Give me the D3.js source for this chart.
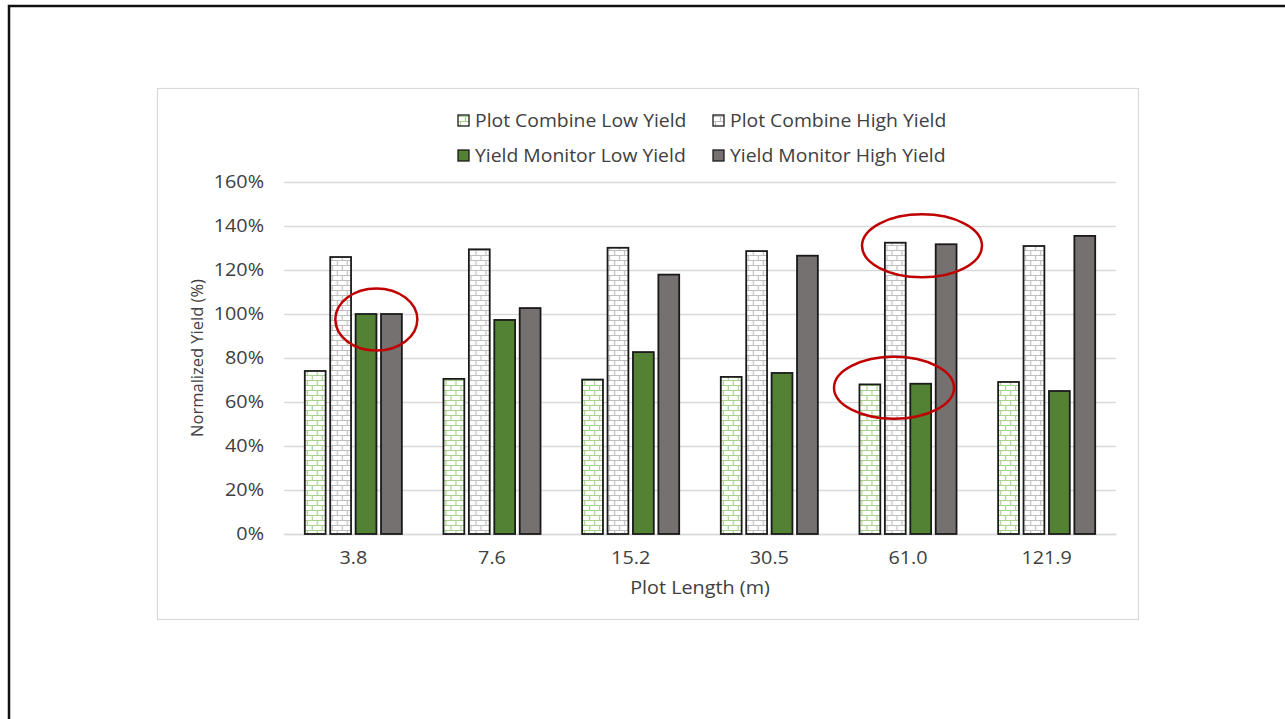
<!DOCTYPE html>
<html>
<head>
<meta charset="utf-8">
<script src="https://cdn.jsdelivr.net/npm/d3@7/dist/d3.min.js"></script>
<style>
  html, body { margin: 0; padding: 0; background: #fff; }
  svg { display: block; }
  text { font-family: "Open Sans", "DejaVu Sans", sans-serif; fill: #404040; }
</style>
</head>
<body>
<svg id="chart" width="1285" height="719"></svg>
<script>
// Plot lengths (m) on the x axis
const categories = ["3.8", "7.6", "15.2", "30.5", "61.0", "121.9"];
// Series names, in legend order
const seriesNames = [
  "Plot Combine Low Yield",
  "Plot Combine High Yield",
  "Yield Monitor Low Yield",
  "Yield Monitor High Yield"
];
// Normalized yield (%) per plot length
const plotCombineLow   = [74.1, 70.5, 70.2, 71.4, 68.0, 69.1];
const plotCombineHigh  = [125.9, 129.4, 130.1, 128.6, 132.4, 130.9];
const yieldMonitorLow  = [100.0, 97.3, 82.7, 73.2, 68.3, 65.0];
const yieldMonitorHigh = [100.0, 102.7, 117.9, 126.5, 131.7, 135.5];
const yTicks = [0, 20, 40, 60, 80, 100, 120, 140, 160];

const seriesValues = [plotCombineLow, plotCombineHigh, yieldMonitorLow, yieldMonitorHigh];
const table = categories.map((c, i) => ({
  category: c,
  values: seriesNames.map((s, j) => ({ series: s, value: seriesValues[j][i] }))
}));

const svg = d3.select("#chart");
const WIDEN = 1.1; // slightly wide lettering

// Widen a text horizontally about its own anchor x
function widen(sel) {
  sel.each(function () {
    const t = d3.select(this);
    const ax = +(t.attr("x") || 0);
    t.attr("transform", `translate(${ax},0) scale(${WIDEN},1) translate(${-ax},0)`);
  });
}

// Brick hatch fills
const defs = svg.append("defs");
function brick(id, color) {
  const p = defs.append("pattern")
    .attr("id", id).attr("patternUnits", "userSpaceOnUse")
    .attr("width", 10).attr("height", 10);
  p.append("rect").attr("width", 10).attr("height", 10).attr("fill", "#fff");
  const g = p.append("g").attr("stroke", color).attr("stroke-width", 1.2).attr("fill", "none");
  g.append("path").attr("d", "M0,0.5H10M0,5.5H10M2.5,0.5V5.5M7.5,5.5V10.5");
  return `url(#${id})`;
}
const fills = [
  brick("brickGreen", "#a9d18e"),
  brick("brickGray", "#bfbfbf"),
  "#548235",
  "#767171"
];

// Slide frame
svg.append("path")
  .attr("d", "M9,719V6H1285")
  .attr("fill", "none").attr("stroke", "#111").attr("stroke-width", 2.5);

// Chart area border
svg.append("rect")
  .attr("x", 157.5).attr("y", 88.5).attr("width", 981).attr("height", 531)
  .attr("fill", "#fff").attr("stroke", "#d9d9d9").attr("stroke-width", 1.2);

const plot = { left: 284, right: 1116, top: 182, bottom: 534 };

const x0 = d3.scaleBand().domain(categories)
  .range([plot.left, plot.right]).paddingInner(0.3).paddingOuter(0.15);
const x1 = d3.scaleBand().domain(seriesNames)
  .range([0, x0.bandwidth()]).paddingInner(0.18).paddingOuter(0);
const y = d3.scaleLinear().domain([0, 160]).range([plot.bottom, plot.top]);

// Gridlines and y labels
const yAxis = d3.axisLeft(y).tickValues(yTicks)
  .tickSize(-(plot.right - plot.left)).tickPadding(20)
  .tickFormat(d => d + "%");
const gy = svg.append("g").attr("transform", `translate(${plot.left},0)`).call(yAxis);
gy.select(".domain").remove();
gy.selectAll(".tick line").attr("stroke", "#d9d9d9").attr("stroke-width", 1.3);
gy.selectAll(".tick text").style("font-size", "18px").attr("fill", "#404040").call(widen);

// X axis
const xAxis = d3.axisBottom(x0).tickSize(0).tickPadding(17);
const gx = svg.append("g").attr("transform", `translate(0,${plot.bottom})`).call(xAxis);
gx.select(".domain").attr("stroke", "#d9d9d9").attr("stroke-width", 1.3);
gx.selectAll(".tick text").style("font-size", "18px").attr("fill", "#404040").call(widen);

// Bars
const groups = svg.append("g").selectAll("g").data(table).join("g")
  .attr("transform", d => `translate(${x0(d.category)},0)`);
groups.selectAll("rect").data(d => d.values).join("rect")
  .attr("x", d => x1(d.series))
  .attr("y", d => y(d.value))
  .attr("width", x1.bandwidth())
  .attr("height", d => y(0) - y(d.value))
  .attr("fill", (d, i) => fills[i])
  .attr("stroke", "#1a1a1a").attr("stroke-width", 1.8);

// Axis titles
svg.append("text")
  .attr("transform", `translate(203,${(plot.top + plot.bottom) / 2}) rotate(-90)`)
  .attr("text-anchor", "middle").style("font-size", "16.5px")
  .text("Normalized Yield (%)");
svg.append("text")
  .attr("x", (plot.left + plot.right) / 2).attr("y", 594)
  .attr("text-anchor", "middle").style("font-size", "18px")
  .text("Plot Length (m)").call(widen);

// Legend: two rows of two entries
const legendPos = [[458, 121], [713, 121], [458, 156], [713, 156]];
const legend = svg.append("g").selectAll("g").data(seriesNames).join("g")
  .attr("transform", (d, i) => `translate(${legendPos[i][0]},${legendPos[i][1]})`);
legend.append("rect")
  .attr("x", 0).attr("y", -6).attr("width", 11).attr("height", 11)
  .attr("fill", (d, i) => fills[i]).attr("stroke", "#1a1a1a").attr("stroke-width", 1.3);
legend.append("text")
  .attr("x", 17).attr("y", 0).attr("dy", "0.35em")
  .style("font-size", "17.6px").text(d => d).call(widen);

// Red highlight ellipses, placed from the scales
const highlights = [
  { category: "3.8",  dx: 23,  value: 97.5, rx: 41, ry: 31 },
  { category: "61.0", dx: 14,  value: 131,  rx: 60, ry: 31.5 },
  { category: "61.0", dx: -14, value: 66.5, rx: 60, ry: 31 }
];
svg.append("g").selectAll("ellipse").data(highlights).join("ellipse")
  .attr("cx", d => x0(d.category) + x0.bandwidth() / 2 + d.dx)
  .attr("cy", d => y(d.value))
  .attr("rx", d => d.rx).attr("ry", d => d.ry)
  .attr("fill", "none").attr("stroke", "#c00000").attr("stroke-width", 2.5);
</script>
</body>
</html>
